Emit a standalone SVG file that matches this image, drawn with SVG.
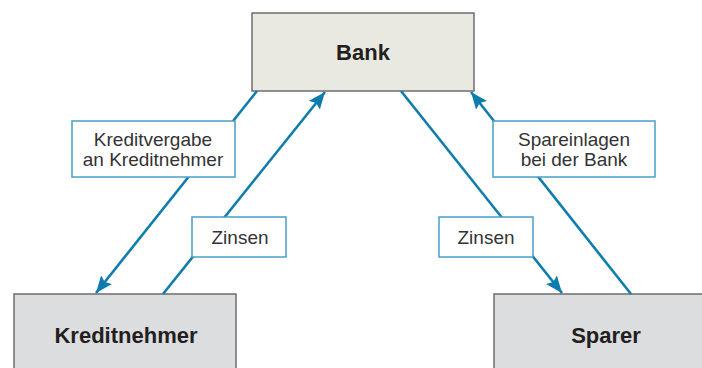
<svg xmlns="http://www.w3.org/2000/svg" width="702" height="368" viewBox="0 0 702 368">
  <style>
    .node { stroke: #6e6e6e; stroke-width: 1.5; }
    .bank { fill: #eae9e1; }
    .party { fill: #dcdddf; }
    .ntext { font-family: "Liberation Sans", Arial, sans-serif; font-size: 22px; font-weight: bold; fill: #231f20; text-anchor: middle; }
    .conn { stroke: #0e7dae; stroke-width: 2.6; fill: none; }
    .lbox { fill: #ffffff; stroke: #4a9fc7; stroke-width: 1.5; }
    .ltext { font-family: "Liberation Sans", Arial, sans-serif; font-size: 19px; fill: #333333; text-anchor: middle; }
  </style>
  <defs>
    <marker id="arrow" markerUnits="userSpaceOnUse" markerWidth="20" markerHeight="16" refX="17" refY="7" orient="auto">
      <path d="M0,0 L17,7 L0,14 L3,7 z" fill="#0e7dae"/>
    </marker>
  </defs>
  <rect width="702" height="368" fill="#ffffff"/>

  <g id="bank">
    <rect class="node bank" x="252" y="13" width="222" height="78"/>
    <text class="ntext" x="363" y="60">Bank</text>
  </g>
  <g id="kreditnehmer">
    <rect class="node party" x="14" y="294" width="222" height="90"/>
    <text class="ntext" x="126" y="343">Kreditnehmer</text>
  </g>
  <g id="sparer">
    <rect class="node party" x="494" y="294" width="222" height="90"/>
    <text class="ntext" x="606" y="343">Sparer</text>
  </g>

  <g id="connectors">
    <line class="conn" x1="257" y1="91" x2="96" y2="293" marker-end="url(#arrow)"/>
    <line class="conn" x1="163" y1="294" x2="325" y2="92" marker-end="url(#arrow)"/>
    <line class="conn" x1="401" y1="91" x2="562" y2="293" marker-end="url(#arrow)"/>
    <line class="conn" x1="631" y1="294" x2="471" y2="92" marker-end="url(#arrow)"/>
  </g>

  <g id="label-kreditvergabe">
    <rect class="lbox" x="72" y="121" width="163" height="56"/>
    <text class="ltext" x="153" y="146">Kreditvergabe</text>
    <text class="ltext" x="153" y="166">an Kreditnehmer</text>
  </g>
  <g id="label-zinsen-left">
    <rect class="lbox" x="192" y="217" width="94" height="40"/>
    <text class="ltext" x="240" y="244">Zinsen</text>
  </g>
  <g id="label-zinsen-right">
    <rect class="lbox" x="439" y="217" width="94" height="40"/>
    <text class="ltext" x="486" y="244">Zinsen</text>
  </g>
  <g id="label-spareinlagen">
    <rect class="lbox" x="493" y="121" width="162" height="56"/>
    <text class="ltext" x="574" y="146">Spareinlagen</text>
    <text class="ltext" x="574" y="166">bei der Bank</text>
  </g>
</svg>
